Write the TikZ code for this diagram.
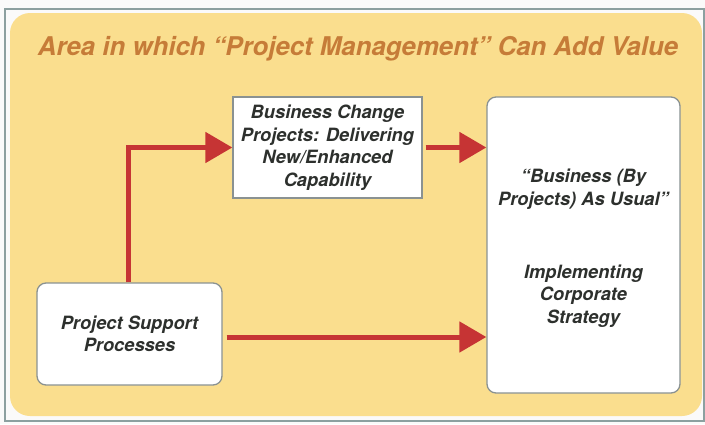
\documentclass[tikz,border=0pt]{standalone}
\usepackage{fontspec}
\setmainfont{TeX Gyre Heros}
\usetikzlibrary{arrows.meta}
\definecolor{bgyellow}{RGB}{250,222,142}
\definecolor{titlecol}{RGB}{198,124,56}
\definecolor{arrowred}{RGB}{198,52,52}
\definecolor{boxline}{RGB}{138,146,146}
\definecolor{framecol}{RGB}{140,160,160}
\definecolor{txtcol}{RGB}{45,48,45}
\tikzset{
  boxstyle/.style={draw=boxline, line width=1.3pt, fill=white, inner sep=0pt},
  boxtext/.style={font=\bfseries\itshape\fontsize{18.3}{22.5}\selectfont, text=txtcol, align=center, inner sep=0pt},
  redarrow/.style={draw=arrowred, line width=5pt, -{Triangle[length=27pt,width=30pt]}}
}
\begin{document}
\begin{tikzpicture}[x=1pt,y=-1pt]
\useasboundingbox (0,0) rectangle (705,424);
\fill[white!96!gray] (0,0) rectangle (705,424);
\draw[framecol, line width=1.2pt] (5,9) rectangle (704,421);
\fill[bgyellow, rounded corners=20pt] (10,13) rectangle (702,416);
\node[font=\bfseries\itshape\fontsize{25.8}{30}\selectfont, text=titlecol, inner sep=0pt] (title) at (358,49) {Area in which “Project Management” Can Add Value};
% boxes
\node[boxstyle, minimum width=189pt, minimum height=101pt] (bcp) at (327.5,147.5) {};
\node[boxtext] (bcptext) at (bcp.center) {Business Change\\Projects: Delivering\\New/Enhanced\\Capability};
\node[boxstyle, rounded corners=9pt, minimum width=193pt, minimum height=296pt] (rbox) at (583.5,245) {};
\node[boxtext] (usual) at (583.5,189) {“Business (By\\Projects) As Usual”};
\node[boxtext] (strategy) at (583.5,296) {Implementing\\Corporate\\Strategy};
\node[boxstyle, rounded corners=9pt, minimum width=185pt, minimum height=102pt] (psp) at (129.5,334) {};
\node[boxtext] (psptext) at (psp.center) {Project Support\\Processes};
% arrows
\draw[redarrow] ([xshift=-1.5pt]psp.north) |- (bcp.west);
\draw[redarrow] ([xshift=3pt]bcp.east) -- (bcp.east -| rbox.west);
\draw[redarrow] ([xshift=4pt,yshift=-3pt]psp.east) -- ([yshift=-3pt]psp.east -| rbox.west);
\end{tikzpicture}
\end{document}
